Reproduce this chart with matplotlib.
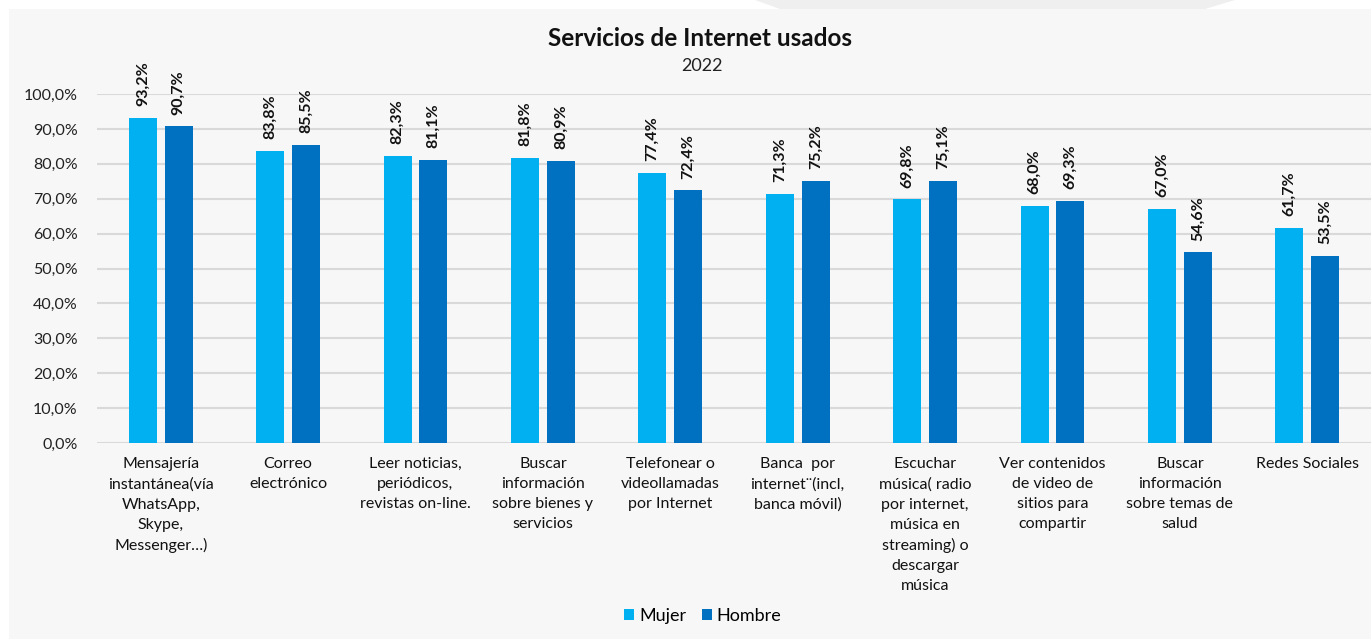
import matplotlib
matplotlib.use("Agg")
import matplotlib.pyplot as plt
from matplotlib.patches import Rectangle, Polygon
import numpy as np

plt.rcParams['font.family'] = ['Lato', 'DejaVu Sans']

categories = [
    "Mensajería\ninstantánea(vía\nWhatsApp,\nSkype,\nMessenger…)",
    "Correo\nelectrónico",
    "Leer noticias,\nperiódicos,\nrevistas on-line.",
    "Buscar\ninformación\nsobre bienes y\nservicios",
    "Telefonear o\nvideollamadas\npor Internet",
    "Banca  por\ninternet¨(incl,\nbanca móvil)",
    "Escuchar\nmúsica( radio\npor internet,\nmúsica en\nstreaming) o\ndescargar\nmúsica",
    "Ver contenidos\nde video de\nsitios para\ncompartir",
    "Buscar\ninformación\nsobre temas de\nsalud",
    "Redes Sociales",
]
mujer = [93.2, 83.8, 82.3, 81.8, 77.4, 71.3, 69.8, 68.0, 67.0, 61.7]
hombre = [90.7, 85.5, 81.1, 80.9, 72.4, 75.2, 75.1, 69.3, 54.6, 53.5]
series_names = ["Mujer", "Hombre"]
yticks = [0, 10, 20, 30, 40, 50, 60, 70, 80, 90, 100]

c_mujer = "#00b0f0"
c_hombre = "#0070c0"
panel = "#f7f7f7"

fig = plt.figure(figsize=(13.71, 6.39), dpi=100)
fig.patch.set_facecolor("white")
# background panel and top tab
fig.patches.append(Rectangle((9 / 1371, 0), 1, 1 - 9 / 639, transform=fig.transFigure,
                             facecolor=panel, edgecolor="none", zorder=-10))
fig.patches.append(Polygon([(755 / 1371, 1), (780 / 1371, 1 - 9 / 639),
                            (1205 / 1371, 1 - 9 / 639), (1235 / 1371, 1)],
                           closed=True, transform=fig.transFigure,
                           facecolor="#efefef", edgecolor="none", zorder=-9))

ax = fig.add_axes([97 / 1371, 1 - 443 / 639, 1 - 97 / 1371, (443 - 94) / 639])
ax.set_facecolor(panel)

x = np.arange(len(categories))
bw = 0.22
off = 0.141
b1 = ax.bar(x - off, mujer, bw, color=c_mujer, label=series_names[0], zorder=3)
b2 = ax.bar(x + off, hombre, bw, color=c_hombre, label=series_names[1], zorder=3)

for bars, vals in ((b1, mujer), (b2, hombre)):
    for rect, v in zip(bars, vals):
        ax.annotate(f"{v:.1f}%".replace(".", ","),
                    (rect.get_x() + rect.get_width() / 2, v),
                    xytext=(0, 8.5), textcoords="offset points",
                    rotation=90, ha="center", va="bottom",
                    fontsize=11.5, fontweight="bold", color="#111111")

ax.set_xlim(-0.5, len(categories) - 0.5)
ax.set_ylim(0, 100)
ax.set_yticks(yticks)
ax.set_yticklabels([f"{t:.1f}%".replace(".", ",") for t in yticks],
                   fontsize=11.5, color="#222222")
ax.set_xticks(x)
ax.set_xticklabels(categories, fontsize=11.5, color="#111111", linespacing=1.55,
                   va="top", ha="center")
ax.tick_params(axis="both", length=0)
ax.tick_params(axis="x", pad=10)
ax.tick_params(axis="y", pad=14)
ax.grid(axis="y", color="#d9d9d9", linewidth=1.5, zorder=0)
for s in ax.spines.values():
    s.set_visible(False)

fig.text(700 / 1371, 1 - 38 / 639, "Servicios de Internet usados", ha="center",
         va="center", fontsize=17.5, fontweight="bold", color="#111111")
fig.text(702 / 1371, 1 - 66 / 639, "2022", ha="center", va="center",
         fontsize=13, color="#222222")

fig.legend(loc="center", bbox_to_anchor=(703 / 1371, 1 - 616 / 639), ncol=2,
           frameon=False, fontsize=13, handlelength=0.55, handleheight=0.55,
           handletextpad=0.25, columnspacing=0.9)

fig.savefig("out.png", dpi=100, facecolor=fig.get_facecolor())
